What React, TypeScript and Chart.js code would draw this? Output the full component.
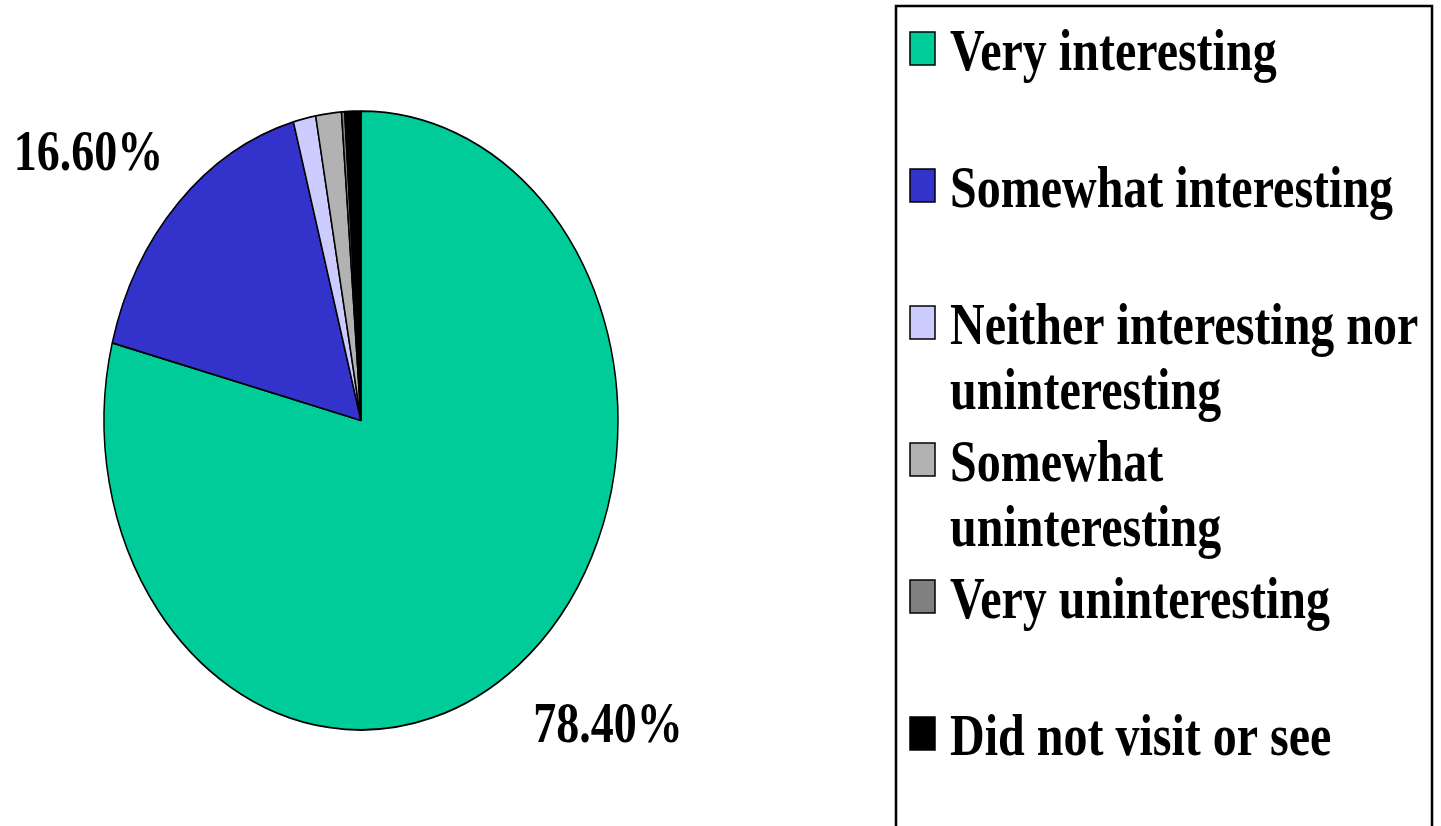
import React, { useEffect, useRef } from "react";
import { Chart, registerables } from "chart.js";

Chart.register(...registerables);

// ---- data ----
const categories = [
  "Very interesting",
  "Somewhat interesting",
  "Neither interesting nor uninteresting",
  "Somewhat uninteresting",
  "Very uninteresting",
  "Did not visit or see",
];
const values = [78.4, 16.6, 1.4, 1.6, 0.2, 1.0];
const colors = ["#00CC99", "#3333CC", "#CCCCFF", "#B2B2B2", "#808080", "#000000"];
const labelThreshold = 5;

// ---- style ----
const PIE_SY = 1.204;
const TEXT_SY = 1.25;
const SERIF = "'Liberation Serif', 'Times New Roman', Times, serif";
const LEGEND_FONT = `bold 48px ${SERIF}`;
const LABEL_FONT = `bold 46px ${SERIF}`;

function drawText(ctx: CanvasRenderingContext2D, text: string, x: number, baseline: number, align: CanvasTextAlign) {
  ctx.save();
  ctx.translate(x, baseline);
  ctx.scale(1, TEXT_SY);
  ctx.textAlign = align;
  ctx.textBaseline = "alphabetic";
  ctx.fillStyle = "#000";
  ctx.fillText(text, 0, 0);
  ctx.restore();
}

function wrap(ctx: CanvasRenderingContext2D, text: string, maxW: number): string[] {
  const words = text.split(" ");
  const lines: string[] = [];
  let cur = "";
  for (const w of words) {
    const t = cur ? cur + " " + w : w;
    if (cur && ctx.measureText(t).width > maxW) {
      lines.push(cur);
      cur = w;
    } else cur = t;
  }
  if (cur) lines.push(cur);
  return lines;
}

const ellipsePlugin = {
  id: "ellipsePie",
  beforeDatasetsDraw(chart: any) {
    const arc = chart.getDatasetMeta(0).data[0];
    const { x, y } = arc.getProps(["x", "y"], true);
    const ctx = chart.ctx;
    ctx.save();
    ctx.translate(x, y);
    ctx.scale(1, PIE_SY);
    ctx.translate(-x, -y);
  },
  afterDatasetsDraw(chart: any) {
    chart.ctx.restore();
  },
};

const annotatePlugin = {
  id: "annotate",
  afterDraw(chart: any) {
    const ctx: CanvasRenderingContext2D = chart.ctx;
    // data labels
    ctx.save();
    ctx.font = LABEL_FONT;
    const capH = 0.676 * 46 * TEXT_SY;
    chart.getDatasetMeta(0).data.forEach((arc: any, i: number) => {
      if (values[i] < labelThreshold) return;
      const p = arc.getProps(["x", "y", "startAngle", "endAngle", "outerRadius"], true);
      const mid = (p.startAngle + p.endAngle) / 2;
      const c = Math.cos(mid);
      const s = Math.sin(mid);
      const px = p.x + p.outerRadius * c;
      const py = p.y + p.outerRadius * s * PIE_SY;
      const ax = px + (c >= 0 ? 15 : -15);
      const ay = py + (s >= 0 ? 38 : -33);
      const baseline = s >= 0 ? ay + capH : ay;
      drawText(ctx, `${values[i].toFixed(2)}%`, ax, baseline, c >= 0 ? "left" : "right");
    });
    ctx.restore();

    // legend
    ctx.save();
    ctx.strokeStyle = "#000";
    ctx.lineWidth = 2.5;
    ctx.strokeRect(896, 6, 1432 - 896, 900);
    ctx.font = LEGEND_FONT;
    const firstBaseline = 70;
    const step = 137;
    const lineH = 65;
    categories.forEach((cat, i) => {
      const base = firstBaseline + i * step;
      ctx.fillStyle = colors[i];
      ctx.fillRect(910, base - 38, 25, 33);
      ctx.strokeStyle = "#000";
      ctx.lineWidth = 1.5;
      ctx.strokeRect(910, base - 38, 25, 33);
      const lines = wrap(ctx, cat, 480);
      lines.forEach((ln, j) => drawText(ctx, ln, 950, base + j * lineH, "left"));
    });
    ctx.restore();
  },
};

export default function App() {
  const ref = useRef<HTMLCanvasElement | null>(null);
  useEffect(() => {
    if (!ref.current) return;
    const chart = new Chart(ref.current, {
      type: "pie",
      data: {
        labels: categories,
        datasets: [
          {
            data: values,
            backgroundColor: colors,
            borderColor: "#000",
            borderWidth: 1.5,
            clip: false,
          } as any,
        ],
      },
      options: {
        animation: false,
        responsive: false,
        devicePixelRatio: 1,
        radius: 257,
        layout: { padding: { left: 104, right: 823, top: 163.5, bottom: 148.5 } },
        plugins: { legend: { display: false }, tooltip: { enabled: false } },
        events: [],
      } as any,
      plugins: [ellipsePlugin, annotatePlugin],
    });
    return () => chart.destroy();
  }, []);
  return (
    <div style={{ position: "absolute", left: 0, top: 0, width: 1441, height: 826, background: "#fff" }}>
      <canvas ref={ref} width={1441} height={826} style={{ width: 1441, height: 826, display: "block" }} />
    </div>
  );
}
